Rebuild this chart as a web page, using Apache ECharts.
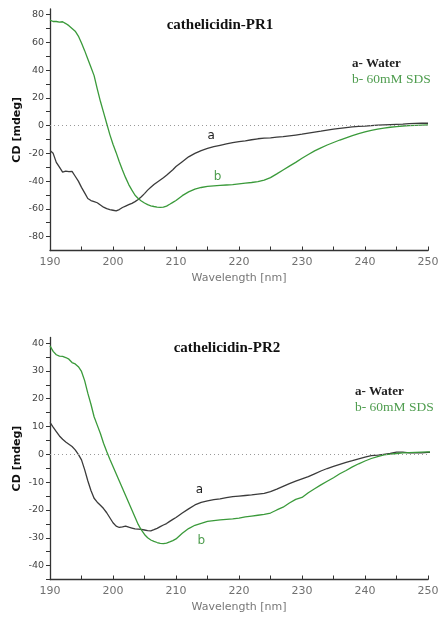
<!DOCTYPE html>
<html><head><meta charset="utf-8">
<script src="https://cdn.jsdelivr.net/npm/echarts@6/dist/echarts.min.js"></script>
<style>html,body{margin:0;padding:0;background:#fff}#c{width:443px;height:623px}</style>
</head><body><div id="c"></div>
<script>
// ---------- data ----------
const wl1 = [190,190.5,191,191.5,192,192.5,193,193.5,194,194.5,195,195.5,196,196.5,197,197.5,198,198.5,199,199.5,200,200.5,201,201.5,202,202.5,203,203.5,204,204.5,205,205.5,206,206.5,207,207.5,208,208.5,209,209.5,210,
  211,212,213,214,215,216,217,218,219,220,221,222,223,224,225,226,227,228,229,230,231,232,233,234,235,236,237,238,239,240,241,242,243,244,245,246,247,248,249,250];
const pr1Water = [-18,-20,-26.5,-30,-33.5,-32.8,-33.2,-33,-36.5,-40,-44.5,-48.5,-52.5,-54,-54.8,-55.6,-57.2,-58.8,-59.8,-60.5,-61,-61.5,-60.5,-59,-58,-57,-56,-54.8,-53.3,-51.3,-49,-46.5,-44.5,-42.5,-40.8,-39.2,-37.6,-35.8,-33.8,-31.8,-29.5,
  -26,-22.5,-20,-18,-16.5,-15.2,-14.2,-13.2,-12.2,-11.5,-11,-10.2,-9.5,-9.1,-8.8,-8.3,-8,-7.4,-6.8,-6.2,-5.4,-4.7,-4,-3.2,-2.5,-2,-1.5,-1,-0.6,-0.4,0,0.3,0.5,0.7,0.9,1.1,1.4,1.6,1.7,1.7];
const pr1SDS = [76,75,75,74.5,74.8,73.5,72,70,68,64.5,59.5,54,48,42,36,26.5,17.5,9.5,1.5,-6.5,-13.5,-19.5,-26,-32,-37.5,-42.5,-46.5,-50.2,-52.5,-54.3,-55.8,-57,-57.8,-58.3,-58.7,-59,-58.8,-58,-56.7,-55.3,-54,
  -50.5,-47.8,-45.8,-44.6,-43.8,-43.4,-43.1,-42.8,-42.5,-42,-41.5,-41,-40.3,-39.3,-37.5,-34.8,-32,-29.2,-26.5,-23.5,-20.8,-18.2,-16,-14,-12.2,-10.4,-8.8,-7.2,-5.8,-4.6,-3.5,-2.6,-1.8,-1.2,-0.7,-0.3,0,0.2,0.4,0.5];

const wl2 = [190,190.5,191,191.5,192,192.5,193,193.5,194,194.5,195,195.5,196,196.5,197,197.5,198,198.5,199,199.5,200,200.5,201,201.5,202,202.5,203,203.5,204,204.5,205,205.5,206,206.5,207,207.5,208,208.5,209,209.5,210,
  211,212,213,214,215,216,217,218,219,220,221,222,223,224,225,226,227,228,229,230,231,232,233,234,235,236,237,238,239,240,241,242,243,244,245,246,247,248,249,250,251,251.5];
const pr2Water = [11.5,9.8,8.2,6.6,5.4,4.4,3.6,2.8,1.6,0,-2,-5.5,-9.5,-13,-15.8,-17.2,-18.3,-19.5,-21,-22.8,-24.6,-25.8,-26.3,-26.1,-25.8,-26.2,-26.5,-26.8,-26.9,-27,-27.2,-27.4,-27.5,-27.1,-26.6,-26,-25.4,-24.9,-24.1,-23.4,-22.7,
  -21.1,-19.6,-18.2,-17.3,-16.7,-16.3,-16,-15.6,-15.2,-15,-14.8,-14.6,-14.3,-14,-13.4,-12.5,-11.5,-10.5,-9.6,-8.8,-8,-7,-6,-5.1,-4.3,-3.6,-2.9,-2.3,-1.6,-1,-0.5,-0.3,0,0.3,0.8,0.8,0.5,0.6,0.5,0.7,0.6,0.6];
const pr2SDS = [39,37,35.8,35.3,35.2,34.8,34.2,33,32.5,31.5,29.8,26.5,22,18,13.5,10.5,7.5,4,1,-1.8,-4.4,-7,-9.6,-12.2,-14.8,-17.4,-20,-22.6,-25.2,-27.2,-28.8,-30,-30.8,-31.3,-31.7,-32,-32.1,-31.9,-31.5,-31,-30.4,
  -28.4,-26.7,-25.5,-24.8,-24.1,-23.8,-23.6,-23.4,-23.2,-22.9,-22.5,-22.2,-21.9,-21.6,-21.1,-20,-19,-17.5,-16.2,-15.5,-13.8,-12.4,-11,-9.7,-8.4,-7,-5.8,-4.5,-3.4,-2.4,-1.5,-0.8,-0.2,0.1,0.3,0.5,0.6,0.7,0.8,0.9,0.9,0.8];

const xLabels = [190,200,210,220,230,240,250];
const xTicks = [190,195,200,205,210,215,220,225,230,235,240,245,250];
const y1Labels = [-80,-60,-40,-20,0,20,40,60,80];
const y1Ticks = [-80,-70,-60,-50,-40,-30,-20,-10,0,10,20,30,40,50,60,70,80];
const y2Labels = [-40,-30,-20,-10,0,10,20,30,40];
const y2Ticks = [-45,-40,-35,-30,-25,-20,-15,-10,-5,0,5,10,15,20,25,30,35,40];

const titles = ['cathelicidin-PR1','cathelicidin-PR2'];
const legendA = 'a- Water';
const legendB = 'b- 60mM SDS';

// ---------- chart ----------
const BLACK = '#3b3b3b', GREEN = '#3a9a3a', GTEXT = '#4f9d4f';
const zip = (xs, ys) => xs.map((x, i) => [x, ys[i]]);

function xAxis(gi){
  return {
    type:'value', gridIndex:gi, min:190, max:250,
    axisLine:{onZero:false, lineStyle:{color:'#333', width:1.3}},
    axisTick:{inside:true, length:4, customValues:xTicks, lineStyle:{color:'#333'}},
    axisLabel:{customValues:xLabels, color:'#707070', fontSize:11, fontFamily:'DejaVu Sans', margin:6},
    splitLine:{show:false},
    name:'Wavelength [nm]', nameLocation:'middle', nameGap:22, nameMoveOverlap:false,
    nameTextStyle:{color:'#777', fontSize:11, fontFamily:'DejaVu Sans'}
  };
}
function yAxis(gi, min, max, labels, ticks){
  return {
    type:'value', gridIndex:gi, min:min, max:max,
    axisLine:{show:true, onZero:false, lineStyle:{color:'#333', width:1.3}},
    axisTick:{show:true, length:4, customValues:ticks, lineStyle:{color:'#333'}},
    axisLabel:{customValues:labels, color:'#444', fontSize:9.5, fontFamily:'DejaVu Sans', margin:6},
    splitLine:{show:false},
    name:'CD [mdeg]', nameLocation:'middle', nameGap:27, nameRotate:90, nameMoveOverlap:false,
    nameTextStyle:{color:'#111', fontSize:11, fontWeight:'bold', fontFamily:'DejaVu Sans'}
  };
}
function zeroLine(){
  return {silent:true, symbol:['none','none'], label:{show:false}, emphasis:{disabled:true},
    lineStyle:{type:[1,3], color:'#999999', width:1},
    data:[[{coord:[190,0]},{coord:[250,0]}]]};
}
function curveLabel(text, x, y, color){
  return {symbol:'circle', symbolSize:1, silent:true,
    itemStyle:{color:'rgba(0,0,0,0)'},
    label:{show:true, formatter:text, color:color, fontSize:12, fontFamily:'DejaVu Sans', position:'inside'},
    data:[{coord:[x,y]}]};
}
function line(name, gi, data, color, extra){
  return Object.assign({
    type:'line', name:name, xAxisIndex:gi, yAxisIndex:gi, data:data,
    showSymbol:false, symbol:'none', clip:false, animation:false,
    lineStyle:{color:color, width:1.3}, itemStyle:{color:color}
  }, extra||{});
}

const chart = echarts.init(document.getElementById('c'), null, {renderer:'canvas'});
chart.setOption({
  animation:false,
  backgroundColor:'#fff',
  grid:[
    {left:50, right:15, top:9, height:241.5},
    {left:50, right:15, top:337.5, height:242}
  ],
  xAxis:[xAxis(0), xAxis(1)],
  yAxis:[yAxis(0,-90,84,y1Labels,y1Ticks), yAxis(1,-45,42,y2Labels,y2Ticks)],
  series:[
    line('z1',0,[],BLACK,{markLine:zeroLine(), z:1}),
    line('z2',1,[],BLACK,{markLine:zeroLine(), z:1}),
    line('a1',0,zip(wl1,pr1Water),BLACK,{markPoint:curveLabel('a',215.6,-7.5,'#222')}),
    line('b1',0,zip(wl1,pr1SDS),GREEN,{markPoint:curveLabel('b',216.6,-37,GTEXT)}),
    line('a2',1,zip(wl2,pr2Water),BLACK,{markPoint:curveLabel('a',213.7,-12.7,'#222')}),
    line('b2',1,zip(wl2,pr2SDS),GREEN,{markPoint:curveLabel('b',214,-31.2,GTEXT)})
  ],
  graphic:[
    {type:'text', x:220, y:25, style:{text:titles[0], align:'center', verticalAlign:'middle', font:'bold 15px "Liberation Serif"', fill:'#111'}},
    {type:'text', x:352, y:64, style:{text:legendA, align:'left', verticalAlign:'middle', font:'bold 13px "Liberation Serif"', fill:'#222'}},
    {type:'text', x:352, y:79, style:{text:legendB, align:'left', verticalAlign:'middle', font:'13.5px "Liberation Serif"', fill:GTEXT}},
    {type:'text', x:227, y:348, style:{text:titles[1], align:'center', verticalAlign:'middle', font:'bold 15px "Liberation Serif"', fill:'#111'}},
    {type:'text', x:355, y:392, style:{text:legendA, align:'left', verticalAlign:'middle', font:'bold 13px "Liberation Serif"', fill:'#222'}},
    {type:'text', x:355, y:407, style:{text:legendB, align:'left', verticalAlign:'middle', font:'13.5px "Liberation Serif"', fill:GTEXT}}
  ]
});
</script>
</body></html>
